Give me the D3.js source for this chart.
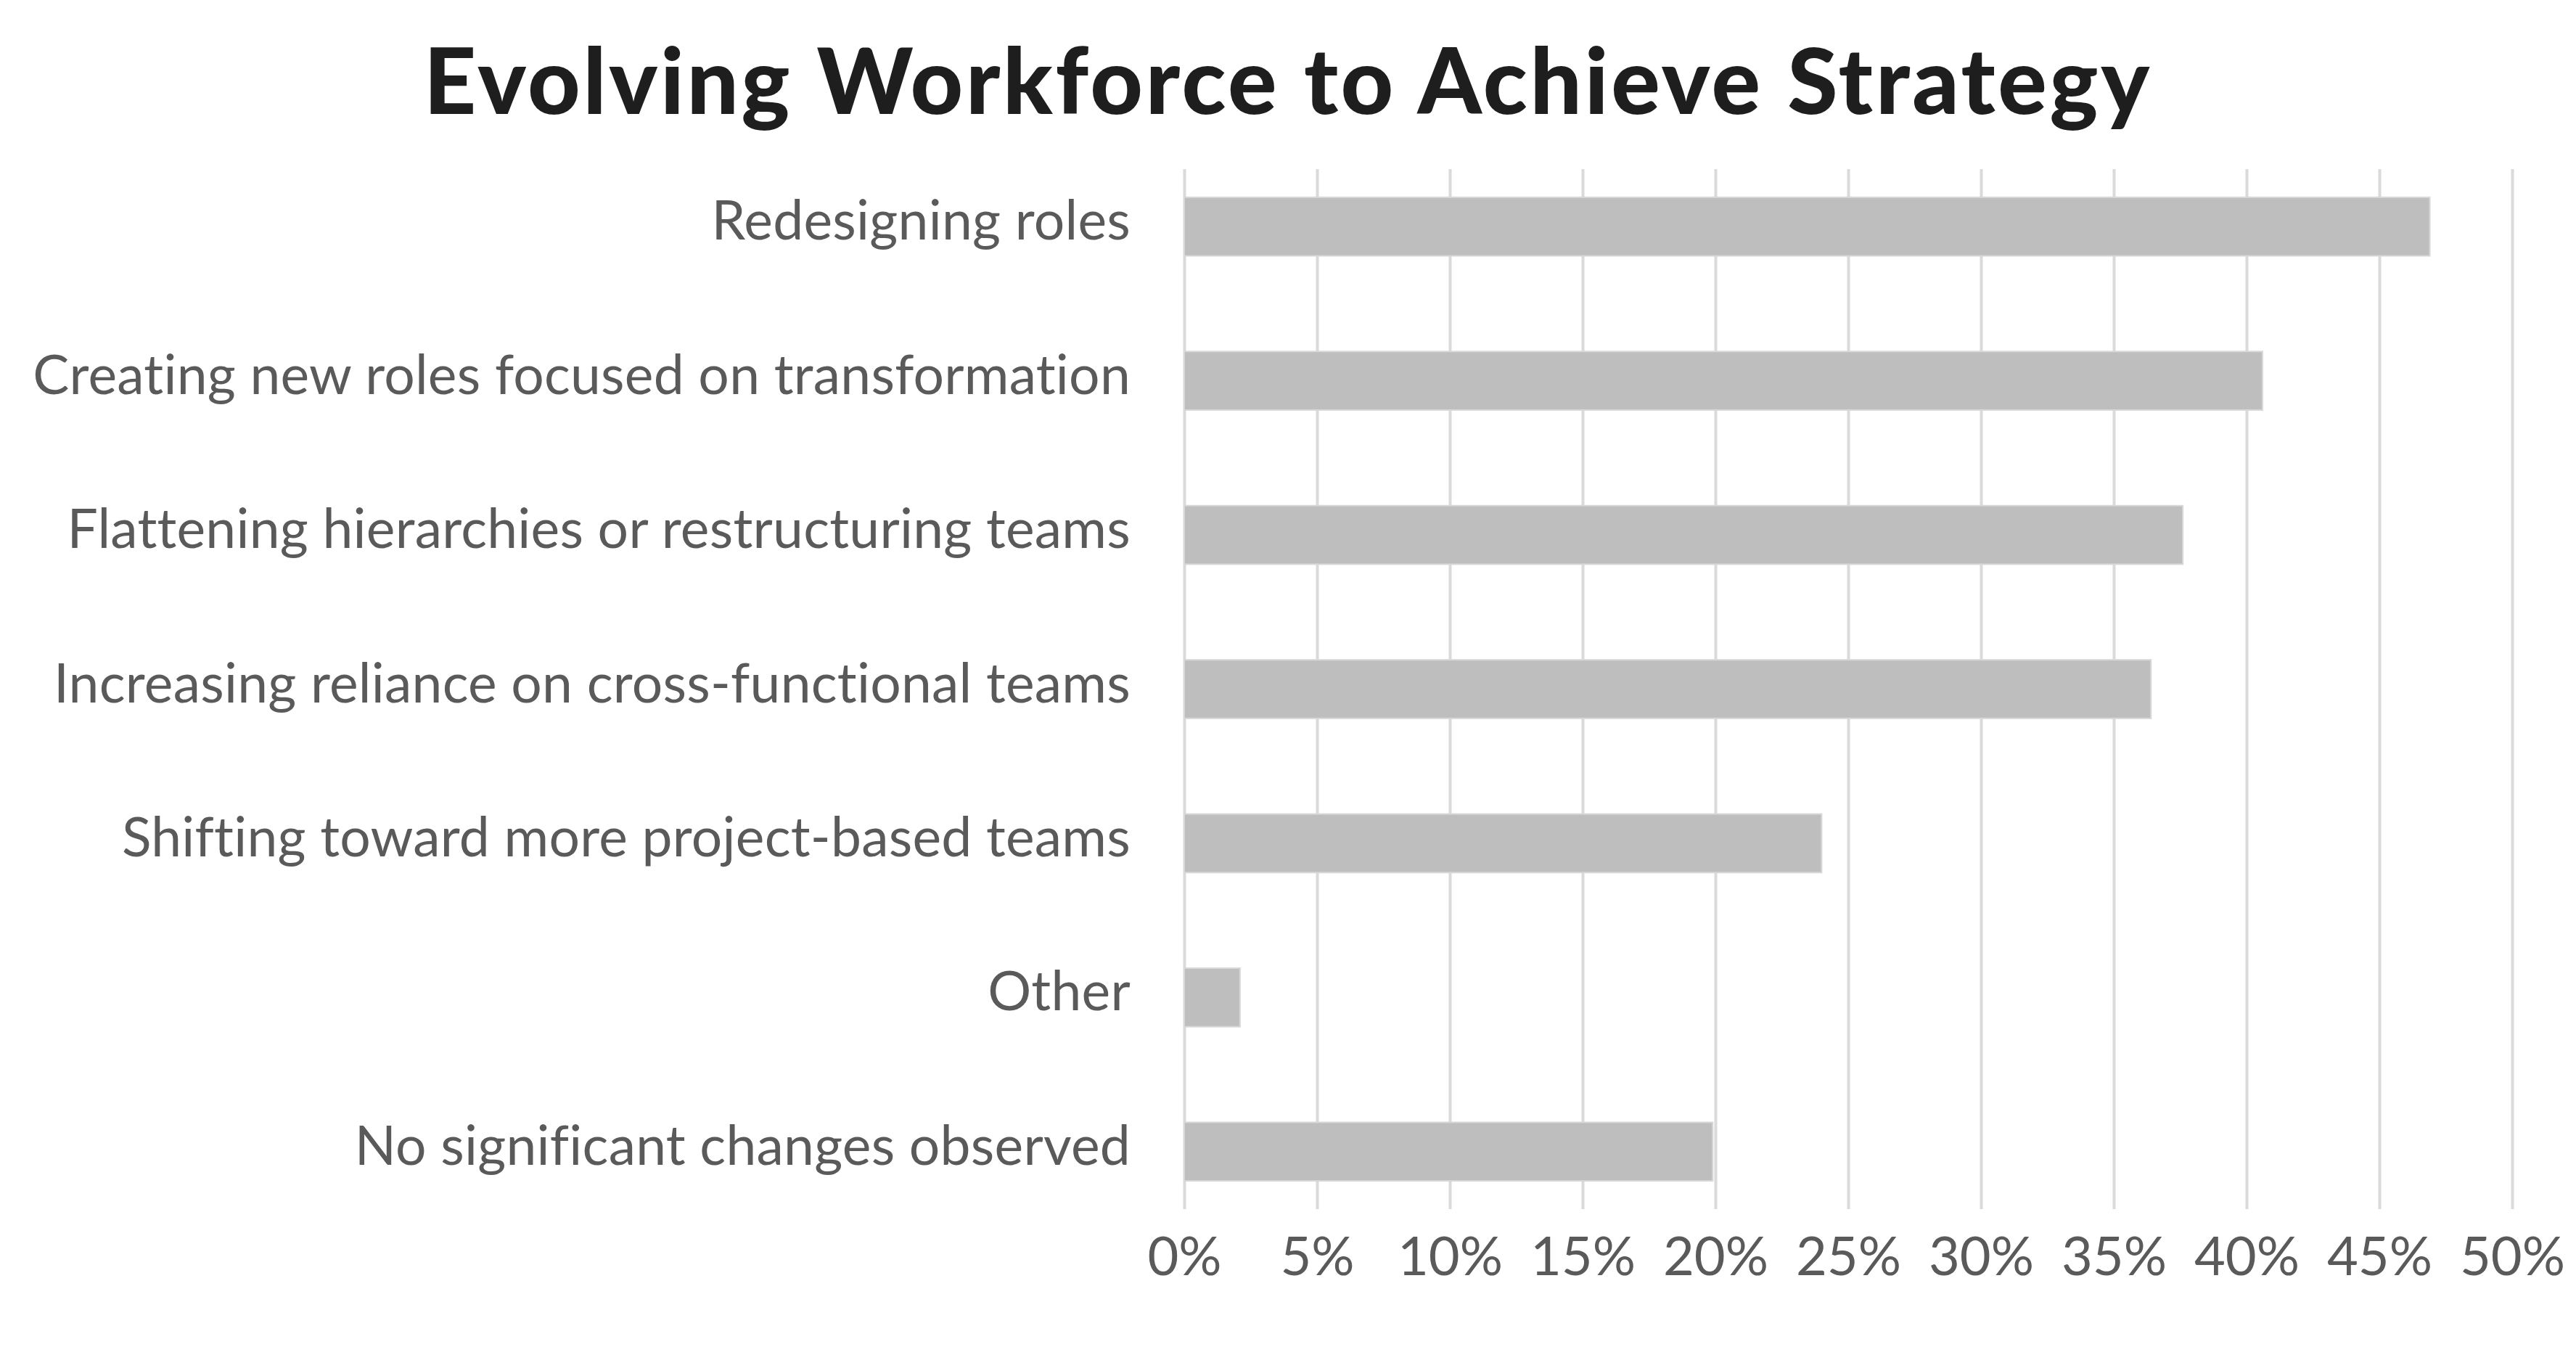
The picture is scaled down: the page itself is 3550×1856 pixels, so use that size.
<!DOCTYPE html>
<html>
<head>
<meta charset="utf-8">
<script src="https://cdn.jsdelivr.net/npm/d3@7"></script>
<style>
  html, body { margin: 0; padding: 0; background: #ffffff; }
  svg { display: block; }
</style>
</head>
<body>
<script>
const title = "Evolving Workforce to Achieve Strategy";
const categories = [
  "Redesigning roles",
  "Creating new roles focused on transformation",
  "Flattening hierarchies or restructuring teams",
  "Increasing reliance on cross-functional teams",
  "Shifting toward more project-based teams",
  "Other",
  "No significant changes observed"
];
const values = [0.469, 0.406, 0.376, 0.364, 0.240, 0.021, 0.199];
const tickValues = [0, 0.05, 0.10, 0.15, 0.20, 0.25, 0.30, 0.35, 0.40, 0.45, 0.50];

const W = 3550, H = 1856;
const svg = d3.select("body").append("svg")
  .attr("width", W).attr("height", H)
  .attr("viewBox", `0 0 ${W} ${H}`);

const x = d3.scaleLinear().domain([0, 0.5]).range([1632, 3462]);
const y = d3.scaleBand().domain(categories).range([206, 1693])
  .paddingInner(0.62).paddingOuter(0.31);

const gridTop = 233, gridBottom = 1666;

// title
svg.append("text")
  .attr("x", W / 2).attr("y", 157)
  .attr("text-anchor", "middle")
  .attr("font-family", "Lato, 'Noto Sans', sans-serif")
  .attr("font-weight", 900)
  .attr("font-size", 126)
  .attr("letter-spacing", 3.7)
  .attr("fill", "#1e1e1e")
  .text(title);

// axis with gridlines
const axis = d3.axisBottom(x)
  .tickValues(tickValues)
  .tickFormat(d3.format(".0%"))
  .tickSize(-(gridBottom - gridTop))
  .tickPadding(38);

const gAxis = svg.append("g")
  .attr("transform", `translate(0,${gridBottom})`)
  .call(axis);
gAxis.select(".domain").remove();
gAxis.selectAll(".tick line")
  .attr("stroke", "#dadada")
  .attr("stroke-width", 4);
gAxis.selectAll(".tick text")
  .attr("font-family", "Lato, 'Noto Sans', sans-serif")
  .attr("font-size", 74)
  .attr("fill", "#5a5a5a");

// bars
svg.append("g").selectAll("rect")
  .data(categories)
  .join("rect")
  .attr("x", x(0))
  .attr("y", d => y(d))
  .attr("width", (d, i) => x(values[i]) - x(0))
  .attr("height", y.bandwidth())
  .attr("fill", "#bebebe")
  .attr("stroke", "#d8d8d8")
  .attr("stroke-width", 2);

// category labels
svg.append("g").selectAll("text")
  .data(categories)
  .join("text")
  .attr("x", 1558)
  .attr("y", d => y(d) + y.bandwidth() / 2 + 18)
  .attr("text-anchor", "end")
  .attr("font-family", "Lato, 'Noto Sans', sans-serif")
  .attr("font-size", 75)
  .attr("letter-spacing", 0.25)
  .attr("fill", "#5a5a5a")
  .text(d => d);
</script>
</body>
</html>
